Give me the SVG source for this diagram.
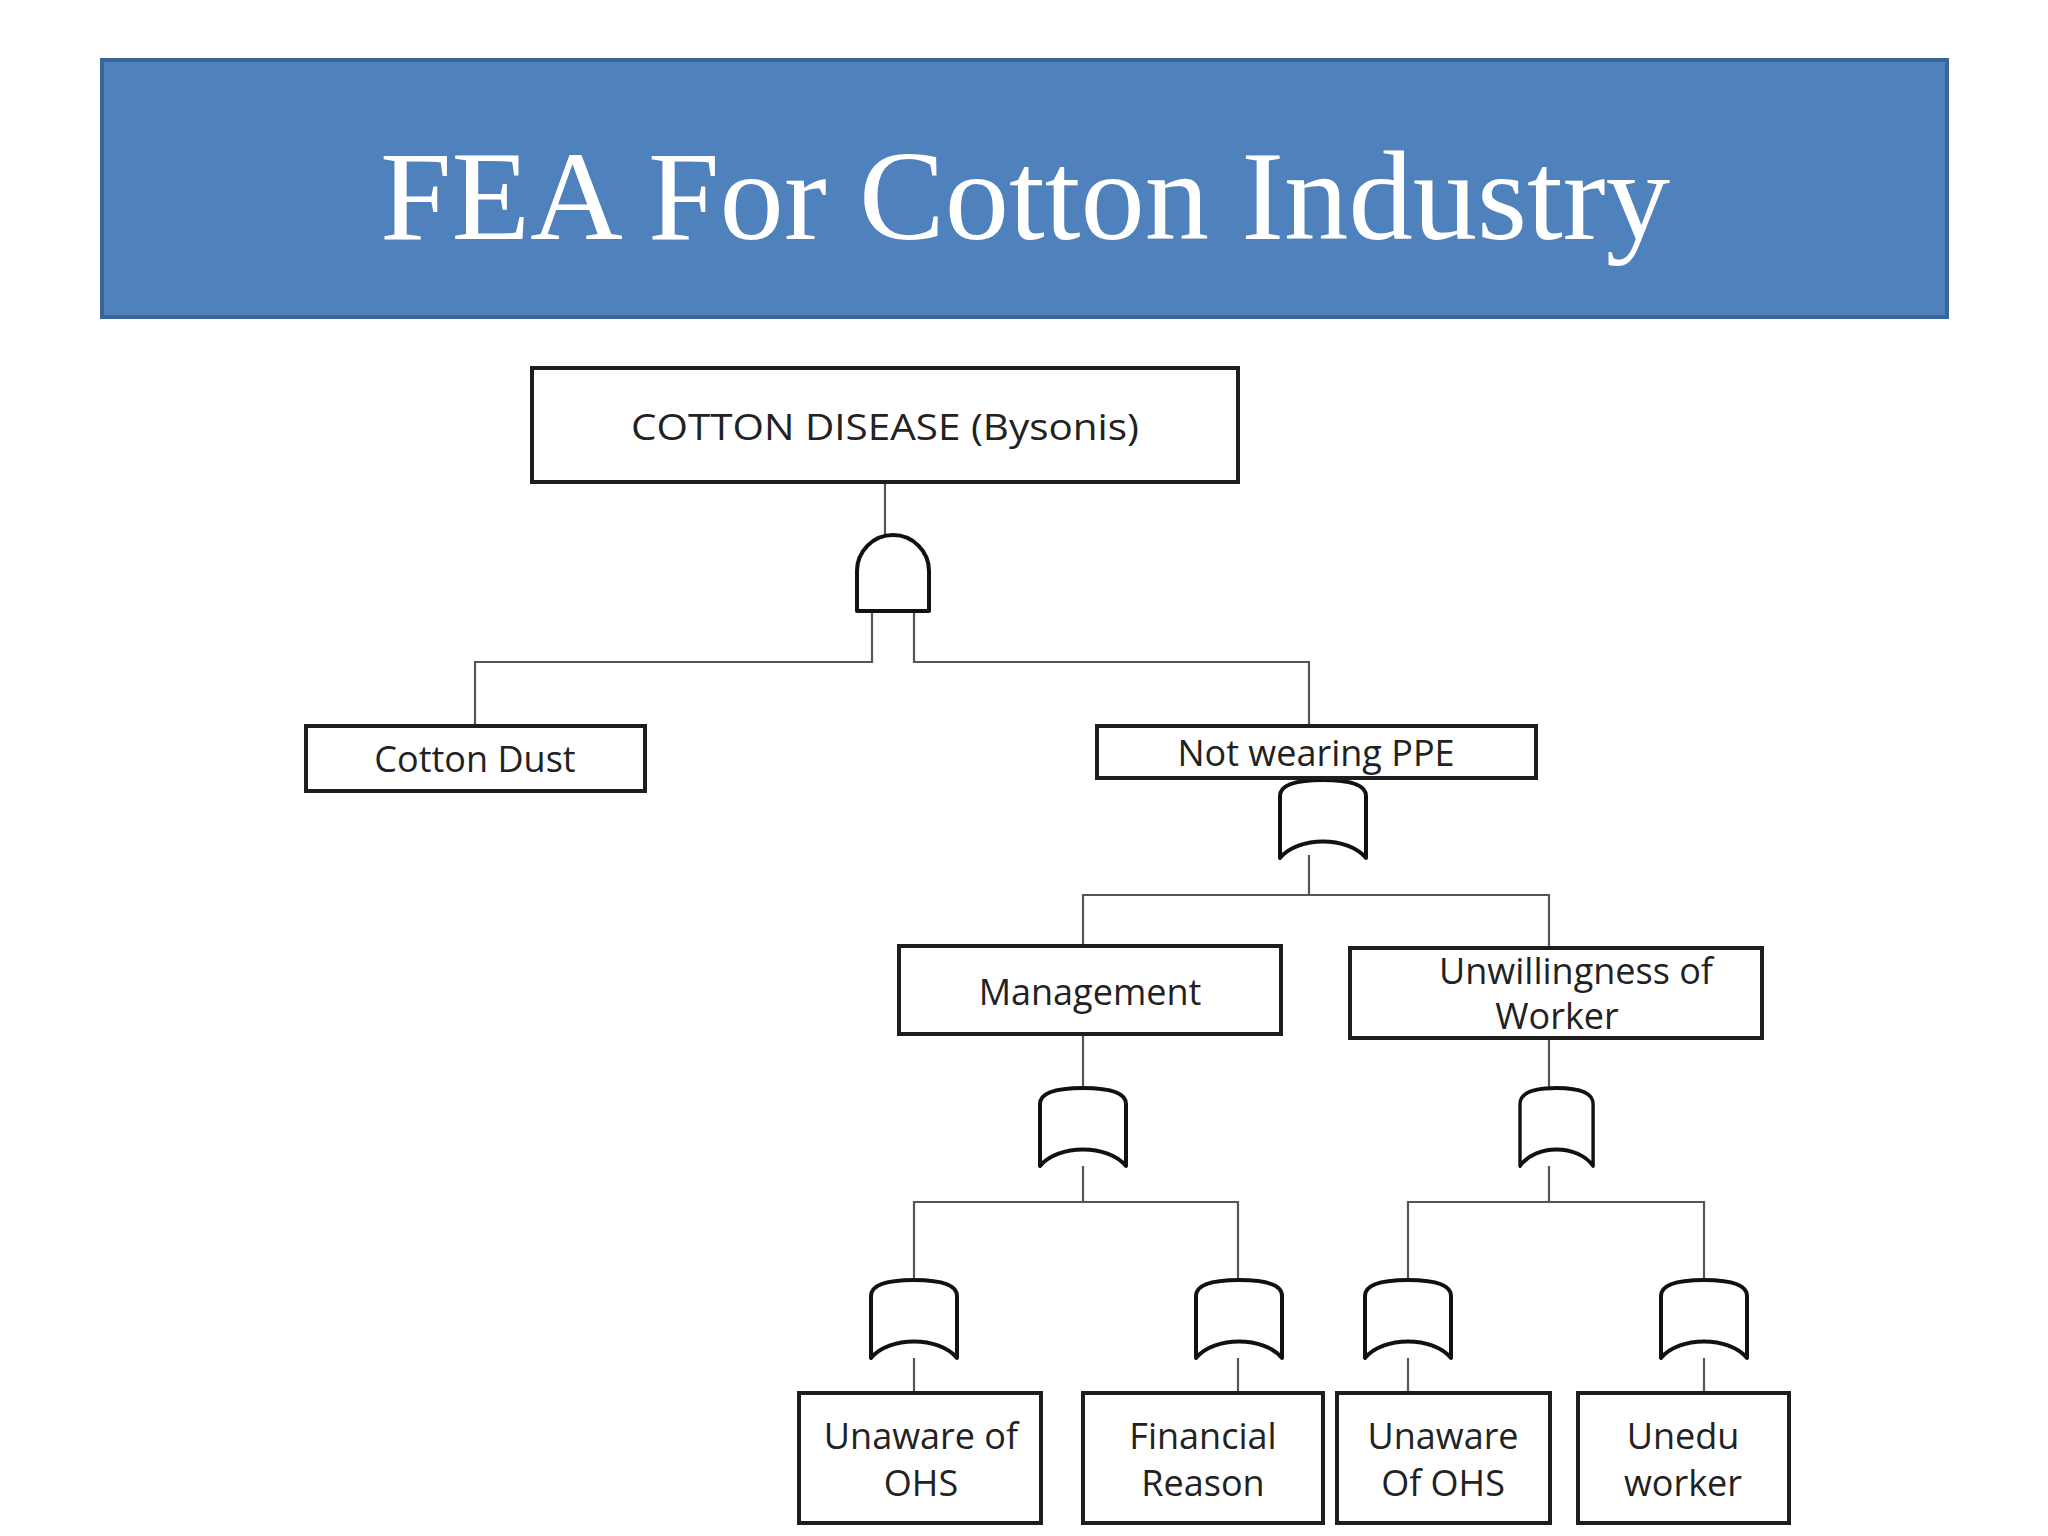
<svg xmlns="http://www.w3.org/2000/svg" width="2048" height="1536" viewBox="0 0 2048 1536">
<style>
.box{fill:#fff;stroke:#1e1e1e;stroke-width:4}
.gate{fill:#fff;stroke:#111;stroke-width:4;stroke-linejoin:round}
.t{font-family:"Open Sans","Noto Sans",sans-serif;font-size:36px;fill:#222;text-anchor:middle}
.c{fill:none;stroke:#555;stroke-width:2.2}
</style>
<defs>
<path id="or" d="M0,78 L0,16 C0,3 20,0 43,0 C66,0 86,3 86,16 L86,78 C68,56 18,56 0,78 Z"/>
</defs>
<rect width="2048" height="1536" fill="#fff"/>
<g id="title">
<rect x="102" y="60" width="1845" height="257" fill="#4F81BD" stroke="#3A6598" stroke-width="4"/>
<text x="1025" y="239" font-family="Liberation Serif,serif" font-size="128" fill="#fff" text-anchor="middle" textLength="1290" lengthAdjust="spacingAndGlyphs">FEA For Cotton Industry</text>
</g>
<g id="connectors" class="c">
<path d="M885,482V535"/>
<path d="M872,611V662H475V726"/>
<path d="M914,611V662H1309V726"/>
<path d="M1309,855V895M1083,946V895H1549V948"/>
<path d="M1083,1034V1088M1083,1166V1202M914,1280V1202H1238V1280"/>
<path d="M1549,1038V1088M1549,1166V1202M1408,1280V1202H1704V1280"/>
<path d="M914,1358V1393M1238,1358V1393M1408,1358V1393M1704,1358V1393"/>
</g>
<g id="gate-and"><path class="gate" d="M857,611 L857,571 A36,36 0 0 1 929,571 L929,611 Z"/></g>
<g id="gate-ppe"><use href="#or" class="gate" transform="translate(1280,780)"/></g>
<g id="gate-mgmt"><use href="#or" class="gate" transform="translate(1040,1088)"/></g>
<g id="gate-unw"><use href="#or" class="gate" transform="translate(1520,1088) scale(0.85,1)"/></g>
<g id="gate-b1"><use href="#or" class="gate" transform="translate(871,1280)"/></g>
<g id="gate-b2"><use href="#or" class="gate" transform="translate(1196,1280)"/></g>
<g id="gate-b3"><use href="#or" class="gate" transform="translate(1365,1280)"/></g>
<g id="gate-b4"><use href="#or" class="gate" transform="translate(1661,1280)"/></g>
<g id="top"><rect class="box" x="532" y="368" width="706" height="114"/><text class="t" x="885" y="440" font-size="38" textLength="508" lengthAdjust="spacingAndGlyphs">COTTON DISEASE (Bysonis)</text></g>
<g id="dust"><rect class="box" x="306" y="726" width="339" height="65"/><text class="t" x="475" y="772">Cotton Dust</text></g>
<g id="ppe"><rect class="box" x="1097" y="726" width="439" height="52"/><text class="t" x="1316" y="766">Not wearing PPE</text></g>
<g id="mgmt"><rect class="box" x="899" y="946" width="382" height="88"/><text class="t" x="1090" y="1005">Management</text></g>
<g id="unw"><rect class="box" x="1350" y="948" width="412" height="90"/><text class="t" x="1576" y="984">Unwillingness of</text><text class="t" x="1557" y="1029">Worker</text></g>
<g id="b1"><rect class="box" x="799" y="1393" width="242" height="130"/><text class="t" x="921" y="1449">Unaware of</text><text class="t" x="921" y="1496">OHS</text></g>
<g id="b2"><rect class="box" x="1083" y="1393" width="240" height="130"/><text class="t" x="1203" y="1449">Financial</text><text class="t" x="1203" y="1496">Reason</text></g>
<g id="b3"><rect class="box" x="1337" y="1393" width="213" height="130"/><text class="t" x="1443" y="1449">Unaware</text><text class="t" x="1443" y="1496">Of OHS</text></g>
<g id="b4"><rect class="box" x="1578" y="1393" width="211" height="130"/><text class="t" x="1683" y="1449">Unedu</text><text class="t" x="1683" y="1496">worker</text></g>
</svg>
